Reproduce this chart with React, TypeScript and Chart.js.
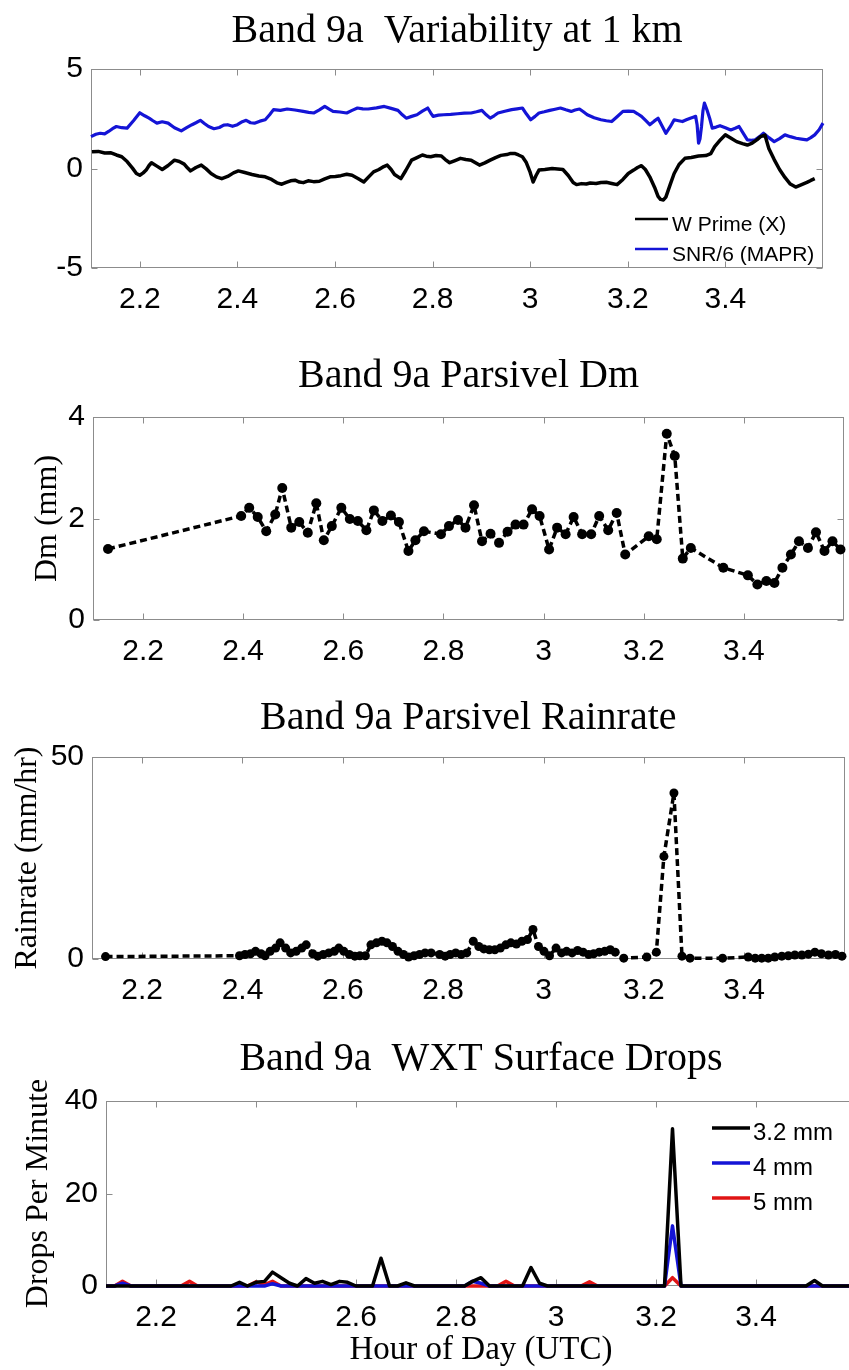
import React, { useEffect, useRef } from 'react';
import { Chart, registerables } from 'chart.js';

Chart.register(...registerables);

const SANS = '"Liberation Sans", Arial, Helvetica, sans-serif';
const SERIF = '"Liberation Serif", "Times New Roman", Times, serif';

type Pt = [number, number];

// ---------- shared x axis ----------
const xMin = 2.1;
const xMax = 3.6;
const xTickValues = [2.2, 2.4, 2.6, 2.8, 3, 3.2, 3.4];

// ---------- panel 1: Variability at 1 km ----------
const variabilityTicks = [-5, 0, 5];
const wPrime: Pt[] = [
  [2.102, 0.84], [2.115, 0.86], [2.128, 0.78], [2.141, 0.79], [2.152, 0.68], [2.163, 0.59],
  [2.174, 0.35], [2.185, 0.02], [2.193, -0.25], [2.2, -0.34], [2.207, -0.22], [2.213, -0.08],
  [2.219, 0.15], [2.224, 0.29], [2.235, 0.12], [2.246, -0.05], [2.258, 0.15], [2.271, 0.42],
  [2.281, 0.35], [2.291, 0.22], [2.298, 0.02], [2.304, -0.12], [2.315, 0.05], [2.326, 0.17],
  [2.336, -0.02], [2.346, -0.25], [2.357, -0.42], [2.368, -0.51], [2.38, -0.4], [2.392, -0.22],
  [2.402, -0.12], [2.415, -0.2], [2.43, -0.3], [2.444, -0.38], [2.457, -0.42], [2.47, -0.55],
  [2.481, -0.72], [2.491, -0.79], [2.5, -0.7], [2.509, -0.62], [2.518, -0.59], [2.527, -0.68],
  [2.535, -0.71], [2.545, -0.62], [2.556, -0.66], [2.568, -0.64], [2.579, -0.52], [2.59, -0.42],
  [2.601, -0.4], [2.612, -0.36], [2.624, -0.29], [2.635, -0.34], [2.647, -0.5], [2.659, -0.68],
  [2.669, -0.42], [2.679, -0.17], [2.69, -0.05], [2.7, 0.1], [2.707, 0.17], [2.715, -0.05],
  [2.722, -0.3], [2.735, -0.51], [2.745, -0.1], [2.757, 0.42], [2.768, 0.55], [2.779, 0.68],
  [2.787, 0.62], [2.796, 0.59], [2.807, 0.65], [2.818, 0.63], [2.826, 0.45], [2.835, 0.29],
  [2.846, 0.4], [2.857, 0.51], [2.868, 0.45], [2.879, 0.42], [2.887, 0.3], [2.896, 0.17],
  [2.907, 0.28], [2.918, 0.42], [2.929, 0.55], [2.94, 0.66], [2.952, 0.7], [2.96, 0.76],
  [2.968, 0.76], [2.976, 0.68], [2.984, 0.59], [2.992, 0.3], [3.0, -0.2], [3.006, -0.68],
  [3.012, -0.35], [3.018, -0.08], [3.03, -0.05], [3.045, 0.0], [3.056, -0.02], [3.067, -0.05],
  [3.078, -0.35], [3.088, -0.7], [3.095, -0.81], [3.105, -0.76], [3.115, -0.78], [3.123, -0.73],
  [3.135, -0.75], [3.145, -0.7], [3.156, -0.69], [3.167, -0.75], [3.178, -0.81], [3.19, -0.55],
  [3.201, -0.25], [3.212, -0.08], [3.22, 0.05], [3.228, 0.14], [3.236, -0.05], [3.245, -0.42],
  [3.255, -0.95], [3.262, -1.4], [3.267, -1.55], [3.273, -1.58], [3.278, -1.44], [3.287, -0.8],
  [3.295, -0.25], [3.305, 0.2], [3.317, 0.51], [3.33, 0.55], [3.345, 0.63], [3.36, 0.65],
  [3.37, 0.75], [3.378, 1.1], [3.39, 1.45], [3.4, 1.69], [3.41, 1.55], [3.423, 1.35],
  [3.435, 1.25], [3.445, 1.18], [3.455, 1.28], [3.465, 1.45], [3.472, 1.6], [3.481, 1.68],
  [3.489, 1.01], [3.5, 0.45], [3.511, -0.05], [3.522, -0.45], [3.533, -0.78], [3.544, -0.93],
  [3.555, -0.82], [3.567, -0.7], [3.575, -0.6], [3.583, -0.51],
];
const snrOver6: Pt[] = [
  [2.1, 1.6], [2.11, 1.72], [2.119, 1.77], [2.128, 1.74], [2.136, 1.86], [2.144, 2.0],
  [2.152, 2.11], [2.163, 2.05], [2.174, 2.03], [2.187, 2.4], [2.2, 2.8], [2.21, 2.65],
  [2.219, 2.53], [2.227, 2.4], [2.235, 2.28], [2.246, 2.35], [2.258, 2.28], [2.271, 2.05],
  [2.285, 1.89], [2.296, 2.05], [2.307, 2.2], [2.315, 2.3], [2.324, 2.42], [2.333, 2.25],
  [2.341, 2.11], [2.352, 2.0], [2.363, 2.06], [2.372, 2.18], [2.38, 2.2], [2.39, 2.12],
  [2.4, 2.2], [2.41, 2.35], [2.418, 2.42], [2.427, 2.3], [2.435, 2.28], [2.446, 2.38],
  [2.457, 2.45], [2.466, 2.7], [2.474, 2.96], [2.488, 2.92], [2.502, 2.99], [2.518, 2.94],
  [2.535, 2.87], [2.546, 2.82], [2.557, 2.79], [2.568, 2.95], [2.579, 3.12], [2.588, 2.98],
  [2.596, 2.87], [2.61, 2.84], [2.624, 2.79], [2.635, 2.92], [2.646, 3.04], [2.657, 3.0],
  [2.668, 2.99], [2.685, 3.05], [2.701, 3.12], [2.715, 3.02], [2.729, 2.92], [2.738, 2.7],
  [2.746, 2.53], [2.757, 2.62], [2.768, 2.7], [2.779, 2.88], [2.79, 3.04], [2.796, 2.8],
  [2.801, 2.62], [2.812, 2.68], [2.823, 2.7], [2.837, 2.72], [2.851, 2.75], [2.865, 2.78],
  [2.879, 2.79], [2.89, 2.85], [2.901, 2.92], [2.91, 2.7], [2.918, 2.53], [2.926, 2.65],
  [2.934, 2.79], [2.948, 2.88], [2.962, 2.96], [2.973, 3.0], [2.984, 3.04], [2.992, 2.75],
  [3.001, 2.45], [3.01, 2.62], [3.018, 2.79], [3.029, 2.85], [3.04, 2.92], [3.051, 2.98],
  [3.062, 3.04], [3.073, 2.95], [3.084, 2.87], [3.092, 2.94], [3.101, 2.99], [3.109, 2.85],
  [3.117, 2.7], [3.131, 2.55], [3.145, 2.45], [3.156, 2.4], [3.167, 2.36], [3.178, 2.6],
  [3.19, 2.87], [3.201, 2.88], [3.212, 2.87], [3.22, 2.75], [3.228, 2.62], [3.237, 2.4],
  [3.245, 2.2], [3.254, 2.38], [3.262, 2.53], [3.27, 2.15], [3.278, 1.77], [3.287, 2.1],
  [3.295, 2.45], [3.304, 2.4], [3.312, 2.36], [3.32, 2.45], [3.328, 2.53], [3.334, 2.58],
  [3.339, 2.62], [3.342, 2.2], [3.345, 1.27], [3.348, 1.5], [3.351, 2.11], [3.354, 2.9],
  [3.357, 3.29], [3.362, 2.96], [3.368, 2.5], [3.373, 2.03], [3.381, 2.08], [3.389, 2.15],
  [3.4, 2.05], [3.411, 1.94], [3.42, 2.02], [3.428, 2.11], [3.437, 1.75], [3.445, 1.44],
  [3.453, 1.42], [3.461, 1.44], [3.47, 1.6], [3.478, 1.77], [3.489, 1.55], [3.5, 1.35],
  [3.511, 1.5], [3.522, 1.69], [3.533, 1.6], [3.545, 1.52], [3.556, 1.48], [3.567, 1.44],
  [3.575, 1.55], [3.583, 1.69], [3.592, 1.95], [3.6, 2.28],
];

// ---------- panel 2: Parsivel Dm ----------
const dmTicks = [0, 2, 4];
const dm: Pt[] = [
  [2.13, 1.4], [2.396, 2.05], [2.412, 2.21], [2.429, 2.03], [2.446, 1.75], [2.464, 2.08],
  [2.478, 2.6], [2.496, 1.82], [2.512, 1.93], [2.529, 1.72], [2.546, 2.3], [2.561, 1.57],
  [2.577, 1.85], [2.596, 2.21], [2.613, 1.99], [2.629, 1.95], [2.646, 1.77], [2.661, 2.16],
  [2.678, 1.95], [2.695, 2.06], [2.711, 1.93], [2.73, 1.36], [2.744, 1.57], [2.761, 1.75],
  [2.795, 1.69], [2.811, 1.85], [2.829, 1.97], [2.844, 1.82], [2.861, 2.26], [2.877, 1.55],
  [2.894, 1.7], [2.911, 1.52], [2.928, 1.74], [2.944, 1.88], [2.96, 1.88], [2.977, 2.18],
  [2.992, 2.05], [3.011, 1.39], [3.027, 1.82], [3.044, 1.69], [3.06, 2.03], [3.077, 1.69],
  [3.095, 1.69], [3.111, 2.05], [3.129, 1.77], [3.146, 2.11], [3.163, 1.29], [3.21, 1.65],
  [3.226, 1.59], [3.246, 3.67], [3.262, 3.23], [3.278, 1.21], [3.294, 1.42], [3.359, 1.03],
  [3.408, 0.88], [3.427, 0.7], [3.445, 0.77], [3.461, 0.73], [3.477, 1.03], [3.494, 1.29],
  [3.51, 1.55], [3.528, 1.42], [3.544, 1.73], [3.561, 1.36], [3.577, 1.55], [3.593, 1.39],
];

// ---------- panel 3: Parsivel Rainrate ----------
const rainTicks = [0, 50];
const rainrate: Pt[] = [
  [2.127, 0.6], [2.394, 0.8], [2.405, 1.1], [2.416, 1.3], [2.426, 1.9], [2.437, 1.3],
  [2.445, 0.8], [2.455, 1.9], [2.466, 2.7], [2.475, 4.0], [2.486, 2.7], [2.496, 1.5],
  [2.507, 1.9], [2.518, 2.7], [2.527, 3.5], [2.54, 1.3], [2.55, 0.7], [2.561, 1.1],
  [2.572, 1.5], [2.583, 1.9], [2.592, 2.7], [2.602, 1.9], [2.613, 1.1], [2.624, 0.7],
  [2.634, 0.8], [2.645, 0.8], [2.656, 3.5], [2.667, 4.0], [2.678, 4.4], [2.688, 4.0],
  [2.699, 3.1], [2.71, 1.9], [2.721, 1.1], [2.731, 0.5], [2.742, 0.8], [2.753, 1.1],
  [2.764, 1.5], [2.776, 1.5], [2.793, 1.1], [2.804, 0.7], [2.814, 1.1], [2.825, 1.5],
  [2.836, 1.1], [2.847, 1.5], [2.86, 4.4], [2.871, 3.1], [2.881, 2.5], [2.892, 2.3],
  [2.903, 2.3], [2.914, 2.7], [2.925, 3.5], [2.935, 4.0], [2.946, 3.7], [2.957, 4.4],
  [2.968, 4.8], [2.979, 7.3], [2.99, 3.1], [3.001, 1.9], [3.012, 0.8], [3.025, 2.7],
  [3.036, 1.5], [3.046, 1.9], [3.057, 1.5], [3.068, 2.1], [3.079, 1.7], [3.09, 1.1],
  [3.1, 1.3], [3.111, 1.7], [3.122, 1.9], [3.133, 2.3], [3.143, 1.7], [3.16, 0.2],
  [3.206, 0.5], [3.225, 1.7], [3.24, 25.4], [3.26, 41.1], [3.276, 0.7], [3.292, 0.2],
  [3.357, 0.2], [3.408, 0.5], [3.422, 0.2], [3.435, 0.2], [3.448, 0.2], [3.461, 0.5],
  [3.475, 0.7], [3.488, 0.8], [3.501, 1.0], [3.515, 1.0], [3.528, 1.2], [3.541, 1.7],
  [3.554, 1.3], [3.568, 1.0], [3.582, 1.1], [3.595, 0.7],
];

// ---------- panel 4: WXT surface drops ----------
const dropsTicks = [0, 20, 40];
const drops32: Pt[] = [
  [2.1, 0], [2.35, 0], [2.367, 0.8], [2.383, 0], [2.4, 0.8], [2.417, 1.0], [2.433, 3.0],
  [2.45, 1.8], [2.467, 0.6], [2.483, 0], [2.5, 1.6], [2.517, 0.6], [2.533, 1.0], [2.55, 0.3],
  [2.567, 1.0], [2.583, 0.8], [2.6, 0], [2.633, 0], [2.65, 6.0], [2.667, 0], [2.683, 0],
  [2.7, 0.7], [2.717, 0], [2.817, 0], [2.833, 1.0], [2.85, 1.8], [2.867, 0], [2.933, 0],
  [2.95, 4.0], [2.967, 0.6], [2.983, 0], [3.217, 0], [3.233, 34], [3.25, 0], [3.5, 0],
  [3.517, 1.2], [3.533, 0], [3.6, 0],
];
const drops4: Pt[] = [
  [2.1, 0], [2.117, 0], [2.133, 0.6], [2.15, 0], [2.417, 0], [2.433, 0.5], [2.45, 0],
  [2.817, 0], [2.833, 1.0], [2.85, 0.6], [2.867, 0], [3.217, 0], [3.233, 13], [3.25, 0], [3.6, 0],
];
const drops5: Pt[] = [
  [2.1, 0], [2.117, 0], [2.133, 1.0], [2.15, 0], [2.25, 0], [2.267, 1.0], [2.283, 0],
  [2.383, 0], [2.4, 0.9], [2.417, 0.3], [2.433, 1.0], [2.45, 0], [2.883, 0], [2.9, 1.0],
  [2.917, 0], [3.05, 0], [3.067, 0.9], [3.083, 0], [3.217, 0], [3.233, 1.8], [3.25, 0], [3.6, 0],
];

const toXY = (pts: Pt[]) => pts.map(([x, y]) => ({ x, y }));

// MATLAB-like box with inward ticks
const boxPlugin = {
  id: 'mBox',
  beforeDatasetsDraw(chart: any) {
    const { ctx, chartArea: a, scales } = chart;
    const xs = scales.x;
    const ys = scales.y;
    const L = Math.round(a.left) + 0.5;
    const R = Math.round(a.right) - 0.5;
    const T = Math.round(a.top) + 0.5;
    const B = Math.round(a.bottom) - 0.5;
    const tl = 6;
    ctx.save();
    ctx.strokeStyle = '#8c8c8c';
    ctx.lineWidth = 1;
    ctx.setLineDash([]);
    ctx.strokeRect(L, T, R - L, B - T);
    ctx.beginPath();
    xs.ticks.forEach((t: any) => {
      const px = Math.round(xs.getPixelForValue(t.value)) + 0.5;
      ctx.moveTo(px, T); ctx.lineTo(px, T + tl);
      ctx.moveTo(px, B); ctx.lineTo(px, B - tl);
    });
    ys.ticks.forEach((t: any) => {
      const py = Math.round(ys.getPixelForValue(t.value)) + 0.5;
      ctx.moveTo(L, py); ctx.lineTo(L + tl, py);
      ctx.moveTo(R, py); ctx.lineTo(R - tl, py);
    });
    ctx.stroke();
    ctx.restore();
  },
};

// MATLAB-like legend drawn inside the axes
const legendPlugin = {
  id: 'mLegend',
  afterDatasetsDraw(chart: any, _args: any, opts: any) {
    if (!opts || !opts.show) return;
    const ctx = chart.ctx;
    ctx.save();
    ctx.font = `${opts.fontSize}px ${SANS}`;
    ctx.textBaseline = 'middle';
    ctx.textAlign = 'left';
    ctx.fillStyle = '#000';
    chart.data.datasets.forEach((ds: any, i: number) => {
      const y = opts.y + i * opts.rowH;
      ctx.strokeStyle = ds.borderColor;
      ctx.lineWidth = opts.lineWidth;
      ctx.setLineDash([]);
      ctx.beginPath();
      ctx.moveTo(opts.x, y);
      ctx.lineTo(opts.x + opts.lineLen, y);
      ctx.stroke();
      ctx.fillText(ds.label, opts.x + opts.lineLen + opts.gap, y + opts.textDy);
    });
    ctx.restore();
  },
};

interface PanelSpec {
  key: string;
  top: number;
  width: number;
  height: number;
  plotLeft: number;
  padRight: number;
  padBottom: number;
  xAxisHeight: number;
  title: string;
  titlePad: { top: number; bottom: number };
  yMin: number;
  yMax: number;
  yTicks: number[];
  yTitle?: string;
  yTitlePad?: number;
  xTitle?: string;
  legend?: any;
  datasets: any[];
}

const BLUE = '#1414d6';
const RED = '#e01414';

const panels: PanelSpec[] = [
  {
    key: 'p1', top: 0, width: 849, height: 330, plotLeft: 91, padRight: 26, padBottom: 12,
    xAxisHeight: 50, title: 'Band 9a  Variability at 1 km', titlePad: { top: 7, bottom: 14 },
    yMin: -5, yMax: 5, yTicks: variabilityTicks,
    legend: { show: true, x: 635, y: 219, rowH: 30, lineLen: 33, gap: 4, fontSize: 21, lineWidth: 2.5, textDy: 6 },
    datasets: [
      { label: 'W Prime (X)', data: toXY(wPrime), borderColor: '#000', borderWidth: 3.5, pointRadius: 0 },
      { label: 'SNR/6 (MAPR)', data: toXY(snrOver6), borderColor: BLUE, borderWidth: 3.2, pointRadius: 0 },
    ],
  },
  {
    key: 'p2', top: 330, width: 849, height: 340, plotLeft: 93, padRight: 1, padBottom: 0,
    xAxisHeight: 50, title: 'Band 9a Parsivel Dm', titlePad: { top: 22, bottom: 17 },
    yMin: 0, yMax: 4, yTicks: dmTicks, yTitle: 'Dm (mm)', yTitlePad: 28,
    datasets: [
      {
        label: 'Dm', data: toXY(dm), borderColor: '#000', backgroundColor: '#000', borderWidth: 3.5,
        borderDash: [7, 4], pointRadius: 5, pointBorderWidth: 0, pointBackgroundColor: '#000',
      },
    ],
  },
  {
    key: 'p3', top: 670, width: 849, height: 360, plotLeft: 92, padRight: 1, padBottom: 21,
    xAxisHeight: 50, title: 'Band 9a Parsivel Rainrate', titlePad: { top: 24, bottom: 15 },
    yMin: 0, yMax: 50, yTicks: rainTicks, yTitle: 'Rainrate (mm/hr)', yTitlePad: 8,
    datasets: [
      {
        label: 'Rainrate', data: toXY(rainrate), borderColor: '#000', backgroundColor: '#000', borderWidth: 3.5,
        borderDash: [7, 4], pointRadius: 4.5, pointBorderWidth: 0, pointBackgroundColor: '#000',
      },
    ],
  },
  {
    key: 'p4', top: 1030, width: 870, height: 340, plotLeft: 106, padRight: 14, padBottom: 0,
    xAxisHeight: 84, title: 'Band 9a  WXT Surface Drops', titlePad: { top: 5, bottom: 18 },
    yMin: 0, yMax: 40, yTicks: dropsTicks, yTitle: 'Drops Per Minute', yTitlePad: 19,
    xTitle: 'Hour of Day (UTC)',
    legend: { show: true, x: 712, y: 98, rowH: 35, lineLen: 38, gap: 3, fontSize: 24, lineWidth: 3.5, textDy: 5 },
    datasets: [
      { label: '3.2 mm', data: toXY(drops32), borderColor: '#000', borderWidth: 3.5, pointRadius: 0 },
      { label: '4 mm', data: toXY(drops4), borderColor: BLUE, borderWidth: 3.5, pointRadius: 0 },
      { label: '5 mm', data: toXY(drops5), borderColor: RED, borderWidth: 3.5, pointRadius: 0 },
    ],
  },
];

function buildConfig(p: PanelSpec): any {
  return {
    type: 'line',
    data: {
      datasets: p.datasets.map((d) => ({
        fill: false, tension: 0, clip: false, showLine: true, pointHoverRadius: 0,
        borderJoinStyle: 'round', borderCapStyle: 'butt', ...d,
      })),
    },
    options: {
      animation: false,
      responsive: false,
      maintainAspectRatio: false,
      events: [],
      layout: { padding: { left: 0, right: p.padRight, top: 0, bottom: p.padBottom } },
      plugins: {
        legend: { display: false },
        tooltip: { enabled: false },
        title: {
          display: true, text: p.title, fullSize: false, color: '#000',
          font: { family: SERIF, size: 40, weight: 'normal', lineHeight: 1.2 },
          padding: p.titlePad,
        },
        mLegend: p.legend || { show: false },
      },
      scales: {
        x: {
          type: 'linear', min: xMin, max: xMax,
          grid: { display: false, drawTicks: false },
          border: { display: false },
          ticks: {
            color: '#000', font: { family: SANS, size: 30 }, padding: 14,
            maxRotation: 0, autoSkip: false,
            callback: (v: number) => String(Math.round(v * 10) / 10),
          },
          afterBuildTicks: (s: any) => { s.ticks = xTickValues.map((v) => ({ value: v })); },
          afterFit: (s: any) => { s.height = p.xAxisHeight; },
          title: p.xTitle
            ? { display: true, text: p.xTitle, color: '#000', font: { family: SERIF, size: 33, weight: 'normal', lineHeight: 1.2 }, padding: { top: 0, bottom: 0 } }
            : { display: false },
        },
        y: {
          type: 'linear', min: p.yMin, max: p.yMax,
          grid: { display: false, drawTicks: false },
          border: { display: false },
          ticks: {
            color: '#000', font: { family: SANS, size: 30 }, padding: 8, autoSkip: false,
            callback: (v: number) => String(v),
          },
          afterBuildTicks: (s: any) => { s.ticks = p.yTicks.map((v) => ({ value: v })); },
          afterFit: (s: any) => { s.width = p.plotLeft; },
          title: p.yTitle
            ? { display: true, text: p.yTitle, color: '#000', font: { family: SERIF, size: 32, weight: 'normal', lineHeight: 1.2 }, padding: { top: p.yTitlePad, bottom: 0 } }
            : { display: false },
        },
      },
    },
    plugins: [boxPlugin, legendPlugin],
  };
}

function ChartPanel({ spec }: { spec: PanelSpec }) {
  const ref = useRef<HTMLCanvasElement | null>(null);
  useEffect(() => {
    if (!ref.current) return;
    const chart = new Chart(ref.current, buildConfig(spec));
    return () => chart.destroy();
  }, [spec]);
  return (
    <canvas
      ref={ref}
      width={spec.width}
      height={spec.height}
      style={{ position: 'absolute', left: 0, top: spec.top, width: spec.width, height: spec.height }}
    />
  );
}

export default function App() {
  return (
    <div
      style={{
        position: 'absolute', left: 0, top: 0, width: 849, height: 1370,
        overflow: 'hidden', background: '#fff',
      }}
    >
      {panels.map((p) => (
        <ChartPanel key={p.key} spec={p} />
      ))}
    </div>
  );
}
